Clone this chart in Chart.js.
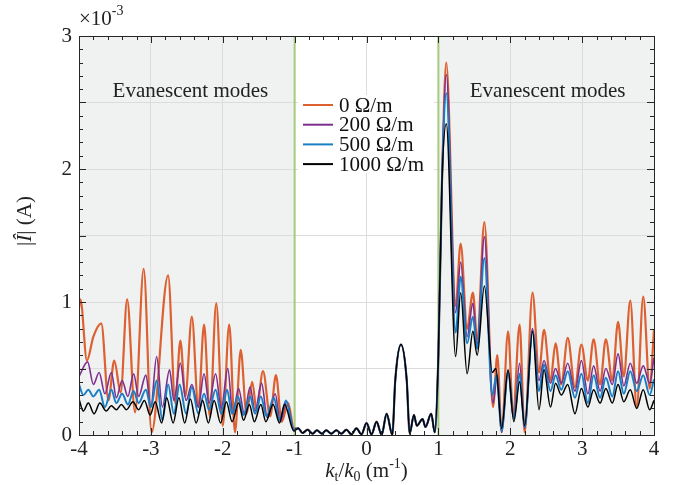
<!DOCTYPE html>
<html>
<head>
<meta charset="utf-8">
<script src="https://cdn.jsdelivr.net/npm/chart.js@4.4.1/dist/chart.umd.min.js"></script>
<style>
  html, body { margin: 0; padding: 0; background: #fff; }
  #wrap { width: 676px; height: 485px; position: relative; }
</style>
</head>
<body>
<div id="wrap"><canvas id="fieldChart"></canvas></div>
<script>
// values in units of 1e-3 A, x = kt/k0
const seriesLabels = ['0 Ω/m', '200 Ω/m', '500 Ω/m', '1000 Ω/m'];
const seriesColors = ['#DC6030', '#7E2F8E', '#1A7EC4', '#000000'];
const seriesWidths = [2.2, 1.6, 2, 1.5];

const xTicks = [-4, -3, -2, -1, 0, 1, 2, 3, 4];
const yTicks = [0, 1, 2, 3];
const evanescentEdges = [-1, 1];

// propagating band, all four curves lie on top of each other
const midX = [-0.95, -0.89, -0.82, -0.75, -0.69, -0.62, -0.56, -0.49, -0.42, -0.35, -0.28, -0.21, -0.14, -0.07, 0.00, 0.07, 0.14, 0.21, 0.28, 0.36, 0.40, 0.48, 0.56, 0.60, 0.66, 0.70, 0.78, 0.82, 0.90, 0.95];
const midY = [0.05, 0.015, 0.04, 0.01, 0.035, 0.01, 0.035, 0.01, 0.035, 0.01, 0.04, 0.005, 0.05, 0.005, 0.09, 0.005, 0.10, 0.0, 0.16, 0.0, 0.41, 0.68, 0.41, 0.01, 0.15, 0.07, 0.12, 0.06, 0.16, 0.02];

// 0 Ω/m
const leftX0 = [-4.00, -3.98, -3.89, -3.80, -3.69, -3.59, -3.51, -3.42, -3.33, -3.22, -3.10, -2.99, -2.76, -2.66, -2.59, -2.52, -2.43, -2.34, -2.26, -2.18, -2.09, -2.00, -1.91, -1.83, -1.75, -1.67, -1.59, -1.53, -1.44, -1.34, -1.26, -1.18, -1.09, -1.01];
const leftY0 = [0.95, 1.02, 0.56, 0.74, 0.84, 0.26, 0.56, 0.32, 1.02, 0.17, 1.25, 0.02, 1.20, 0.24, 0.71, 0.29, 0.89, 0.21, 0.83, 0.14, 0.99, 0.07, 0.83, 0.02, 0.64, 0.16, 0.40, 0.19, 0.48, 0.14, 0.45, 0.10, 0.24, 0.05];
const rightX0 = [1.00, 1.05, 1.11, 1.24, 1.31, 1.40, 1.48, 1.54, 1.64, 1.76, 1.82, 1.88, 1.97, 2.04, 2.13, 2.20, 2.31, 2.40, 2.47, 2.56, 2.63, 2.71, 2.80, 2.90, 2.99, 3.08, 3.16, 3.25, 3.33, 3.42, 3.50, 3.58, 3.67, 3.76, 3.85, 3.94, 4.00];
const rightY0 = [0.60, 1.90, 2.80, 0.97, 1.44, 0.80, 1.07, 0.72, 1.60, 0.21, 0.60, 0.02, 0.78, 0.15, 0.83, 0.02, 1.07, 0.47, 0.79, 0.41, 0.69, 0.38, 0.73, 0.36, 0.68, 0.41, 0.72, 0.38, 0.72, 0.41, 0.85, 0.44, 1.01, 0.21, 1.04, 0.35, 0.79];

// 200 Ω/m
const leftX1 = [-4.00, -3.88, -3.80, -3.72, -3.64, -3.55, -3.48, -3.40, -3.32, -3.24, -3.17, -3.07, -3.00, -2.92, -2.84, -2.74, -2.68, -2.59, -2.51, -2.43, -2.34, -2.26, -2.19, -2.10, -2.02, -1.93, -1.86, -1.78, -1.70, -1.62, -1.55, -1.46, -1.38, -1.27, -1.20, -1.11, -1.01];
const leftY1 = [0.44, 0.55, 0.38, 0.47, 0.31, 0.47, 0.28, 0.41, 0.29, 0.46, 0.29, 0.45, 0.21, 0.59, 0.21, 0.49, 0.26, 0.54, 0.26, 0.38, 0.21, 0.46, 0.24, 0.46, 0.20, 0.50, 0.16, 0.35, 0.16, 0.36, 0.18, 0.39, 0.13, 0.31, 0.10, 0.25, 0.04];
const rightX1 = [1.00, 1.05, 1.11, 1.24, 1.31, 1.40, 1.48, 1.54, 1.64, 1.76, 1.82, 1.88, 1.97, 2.05, 2.13, 2.20, 2.31, 2.40, 2.47, 2.56, 2.63, 2.71, 2.80, 2.90, 2.99, 3.08, 3.16, 3.25, 3.33, 3.42, 3.50, 3.58, 3.67, 3.76, 3.85, 3.94, 4.00];
const rightY1 = [0.60, 1.90, 2.71, 0.92, 1.30, 0.74, 0.99, 0.68, 1.49, 0.24, 0.45, 0.02, 0.48, 0.13, 0.54, 0.05, 0.80, 0.41, 0.56, 0.39, 0.50, 0.39, 0.54, 0.33, 0.56, 0.31, 0.52, 0.33, 0.50, 0.38, 0.61, 0.37, 0.54, 0.39, 0.52, 0.39, 0.58];

// 500 Ω/m
const leftX2 = [-4.00, -3.94, -3.87, -3.80, -3.72, -3.64, -3.55, -3.48, -3.40, -3.32, -3.24, -3.17, -3.07, -3.00, -2.92, -2.84, -2.76, -2.68, -2.60, -2.51, -2.43, -2.34, -2.26, -2.19, -2.10, -2.02, -1.94, -1.87, -1.79, -1.71, -1.62, -1.55, -1.47, -1.39, -1.29, -1.21, -1.12, -1.01];
const leftY2 = [0.38, 0.30, 0.34, 0.29, 0.34, 0.21, 0.34, 0.24, 0.31, 0.23, 0.33, 0.24, 0.34, 0.21, 0.41, 0.11, 0.38, 0.16, 0.38, 0.16, 0.36, 0.16, 0.31, 0.19, 0.34, 0.16, 0.34, 0.16, 0.29, 0.15, 0.29, 0.16, 0.29, 0.14, 0.28, 0.11, 0.26, 0.04];
const rightX2 = [1.00, 1.05, 1.11, 1.24, 1.31, 1.40, 1.48, 1.54, 1.64, 1.75, 1.81, 1.88, 1.97, 2.05, 2.13, 2.20, 2.31, 2.40, 2.47, 2.56, 2.63, 2.71, 2.80, 2.90, 2.99, 3.08, 3.16, 3.25, 3.33, 3.42, 3.50, 3.58, 3.67, 3.76, 3.85, 3.94, 4.00];
const rightY2 = [0.60, 1.90, 2.57, 0.77, 1.19, 0.69, 0.89, 0.65, 1.33, 0.30, 0.45, 0.03, 0.48, 0.12, 0.46, 0.06, 0.78, 0.33, 0.53, 0.33, 0.45, 0.34, 0.48, 0.28, 0.46, 0.24, 0.45, 0.28, 0.43, 0.29, 0.48, 0.31, 0.48, 0.33, 0.45, 0.30, 0.42];

// 1000 Ω/m
const leftX3 = [-4.00, -3.94, -3.87, -3.79, -3.71, -3.62, -3.55, -3.48, -3.41, -3.34, -3.25, -3.17, -3.09, -3.01, -2.94, -2.85, -2.78, -2.69, -2.61, -2.53, -2.45, -2.37, -2.28, -2.20, -2.12, -2.03, -1.95, -1.87, -1.78, -1.71, -1.63, -1.56, -1.47, -1.40, -1.30, -1.21, -1.14, -1.01];
const leftY3 = [0.27, 0.18, 0.24, 0.16, 0.24, 0.18, 0.22, 0.19, 0.23, 0.19, 0.25, 0.19, 0.26, 0.15, 0.25, 0.09, 0.28, 0.09, 0.28, 0.09, 0.27, 0.09, 0.26, 0.09, 0.26, 0.09, 0.25, 0.10, 0.24, 0.11, 0.23, 0.10, 0.23, 0.10, 0.23, 0.09, 0.23, 0.03];
const rightX3 = [1.00, 1.05, 1.11, 1.24, 1.31, 1.40, 1.48, 1.54, 1.64, 1.75, 1.80, 1.88, 1.97, 2.05, 2.13, 2.20, 2.31, 2.40, 2.47, 2.56, 2.63, 2.71, 2.80, 2.90, 2.99, 3.08, 3.16, 3.25, 3.33, 3.42, 3.50, 3.58, 3.67, 3.76, 3.85, 3.94, 4.00];
const rightY3 = [0.60, 1.90, 2.34, 0.59, 1.07, 0.46, 0.78, 0.60, 1.12, 0.47, 0.50, 0.05, 0.49, 0.10, 0.40, 0.07, 0.78, 0.19, 0.49, 0.21, 0.39, 0.30, 0.38, 0.16, 0.35, 0.21, 0.34, 0.24, 0.35, 0.24, 0.38, 0.25, 0.34, 0.20, 0.34, 0.19, 0.26];

const leftXs = [leftX0, leftX1, leftX2, leftX3];
const leftYs = [leftY0, leftY1, leftY2, leftY3];
const rightXs = [rightX0, rightX1, rightX2, rightX3];
const rightYs = [rightY0, rightY1, rightY2, rightY3];

function toPoints(xs, ys) {
   return xs.map((x, i) => ({ x: x, y: ys[i] }));
}

const datasets = seriesLabels.map((label, i) => ({
   label: label,
   data: toPoints(leftXs[i].concat(midX, rightXs[i]), leftYs[i].concat(midY, rightYs[i])),
   borderColor: seriesColors[i],
   backgroundColor: seriesColors[i],
   borderWidth: seriesWidths[i],
   showLine: true,
   pointRadius: 0,
   cubicInterpolationMode: 'monotone',
   order: seriesLabels.length - i
}));

const SERIF = '"Liberation Serif", "Times New Roman", serif';

function richText(ctx, parts, x, y, align) {
   let total = 0;
   parts.forEach(p => { ctx.font = p.font; total += ctx.measureText(p.t).width; });
   let cx = align === 'center' ? x - total / 2 : x;
   parts.forEach(p => {
      ctx.font = p.font;
      ctx.fillText(p.t, cx, y + (p.dy || 0));
      cx += ctx.measureText(p.t).width;
   });
}

const decor = {
   id: 'decor',
   beforeDraw(chart) {
      const { ctx, chartArea: a, scales } = chart;
      const xl = scales.x.getPixelForValue(evanescentEdges[0]);
      const xr = scales.x.getPixelForValue(evanescentEdges[1]);
      ctx.save();
      ctx.fillStyle = '#F0F1F1';
      ctx.fillRect(a.left, a.top, xl - a.left, a.bottom - a.top);
      ctx.fillRect(xr, a.top, a.right - xr, a.bottom - a.top);
      ctx.restore();
   },
   beforeDatasetsDraw(chart) {
      const { ctx, chartArea: a, scales } = chart;
      ctx.save();
      ctx.strokeStyle = '#A4CB7E';
      ctx.lineWidth = 2;
      evanescentEdges.forEach(v => {
         const px = scales.x.getPixelForValue(v);
         ctx.beginPath();
         ctx.moveTo(px, a.top);
         ctx.lineTo(px, a.bottom);
         ctx.stroke();
      });
      ctx.fillStyle = '#222';
      ctx.font = '21px ' + SERIF;
      ctx.textAlign = 'center';
      ctx.textBaseline = 'middle';
      ctx.fillText('Evanescent modes', scales.x.getPixelForValue(-2.45), 91);
      ctx.fillText('Evanescent modes', scales.x.getPixelForValue(2.52), 91);
      ctx.restore();
   },
   afterDatasetsDraw(chart) {
      const { ctx } = chart;
      ctx.save();
      ctx.fillStyle = '#fff';
      ctx.fillRect(298, 95, 136, 78);
      ctx.font = '21px ' + SERIF;
      ctx.textBaseline = 'middle';
      ctx.textAlign = 'left';
      chart.data.datasets.forEach((ds, i) => {
         const y = 105 + i * 19.7;
         ctx.strokeStyle = ds.borderColor;
         ctx.lineWidth = 2;
         ctx.beginPath();
         ctx.moveTo(303, y);
         ctx.lineTo(333, y);
         ctx.stroke();
         ctx.fillStyle = '#111';
         ctx.fillText(ds.label, 339, y + 1);
      });
      ctx.restore();
   },
   afterDraw(chart) {
      const { ctx, chartArea: a, scales } = chart;
      ctx.save();
      ctx.strokeStyle = '#262626';
      ctx.lineWidth = 1;
      ctx.beginPath();
      for (let i = -20; i <= 20; i++) {
         const px = Math.round(scales.x.getPixelForValue(i / 5)) + 0.5;
         const len = i % 5 === 0 ? 7 : 4;
         ctx.moveTo(px, a.bottom); ctx.lineTo(px, a.bottom - len);
         ctx.moveTo(px, a.top); ctx.lineTo(px, a.top + len);
      }
      for (let j = 0; j <= 30; j++) {
         const py = Math.round(scales.y.getPixelForValue(j / 10)) + 0.5;
         const len = j % 5 === 0 ? 7 : 4;
         ctx.moveTo(a.left, py); ctx.lineTo(a.left + len, py);
         ctx.moveTo(a.right, py); ctx.lineTo(a.right - len, py);
      }
      ctx.stroke();
      ctx.strokeRect(Math.round(a.left) + 0.5, Math.round(a.top) + 0.5,
                     Math.round(a.right - a.left), Math.round(a.bottom - a.top));

      ctx.fillStyle = '#222';
      ctx.textBaseline = 'alphabetic';
      ctx.textAlign = 'left';
      const big = '21px ' + SERIF, it = 'italic 21px ' + SERIF, small = '14px ' + SERIF;
      // exponent above the y axis
      richText(ctx, [{ t: '×10', font: big }, { t: '-3', font: small, dy: -10 }], 79, 25, 'left');
      // x title
      richText(ctx, [
         { t: 'k', font: it }, { t: 't', font: small, dy: 4 }, { t: '/', font: big },
         { t: 'k', font: it }, { t: '0', font: small, dy: 4 }, { t: ' (m', font: big },
         { t: '-1', font: small, dy: -9 }, { t: ')', font: big }
      ], (a.left + a.right) / 2, 477, 'center');
      // y title
      ctx.translate(31, 221);
      ctx.rotate(-Math.PI / 2);
      richText(ctx, [{ t: '|', font: big }, { t: 'Î', font: it }, { t: '| (A)', font: big }], 0, 0, 'center');
      ctx.restore();
   }
};

const ctx = document.getElementById('fieldChart').getContext('2d');
const fieldChart = new Chart(ctx, {
   type: 'scatter',
   data: { datasets: datasets },
   options: {
      responsive: true,
      maintainAspectRatio: false,
      animation: false,
      layout: { padding: { top: 36, right: 22, left: 0, bottom: 0 } },
      plugins: { legend: { display: false }, tooltip: { enabled: false } },
      scales: {
         x: {
            type: 'linear', min: xTicks[0], max: xTicks[xTicks.length - 1],
            afterFit(scale) { scale.height = 50; },
            afterBuildTicks(scale) { scale.ticks = xTicks.map(v => ({ value: v })); },
            grid: { color: '#DCDCDC', drawTicks: false },
            border: { display: false },
            ticks: { font: { family: 'Liberation Serif', size: 21 }, color: '#222', padding: 2, maxRotation: 0 }
         },
         y: {
            type: 'linear', min: 0, max: yTicks[yTicks.length - 1],
            afterFit(scale) { scale.width = 79; },
            ticks: {
               stepSize: 0.5,
               font: { family: 'Liberation Serif', size: 21 }, color: '#222', padding: 7,
               callback: v => (yTicks.includes(v) ? String(v) : '')
            },
            grid: { color: '#DCDCDC', drawTicks: false },
            border: { display: false }
         }
      }
   },
   plugins: [decor]
});
</script>
</body>
</html>
